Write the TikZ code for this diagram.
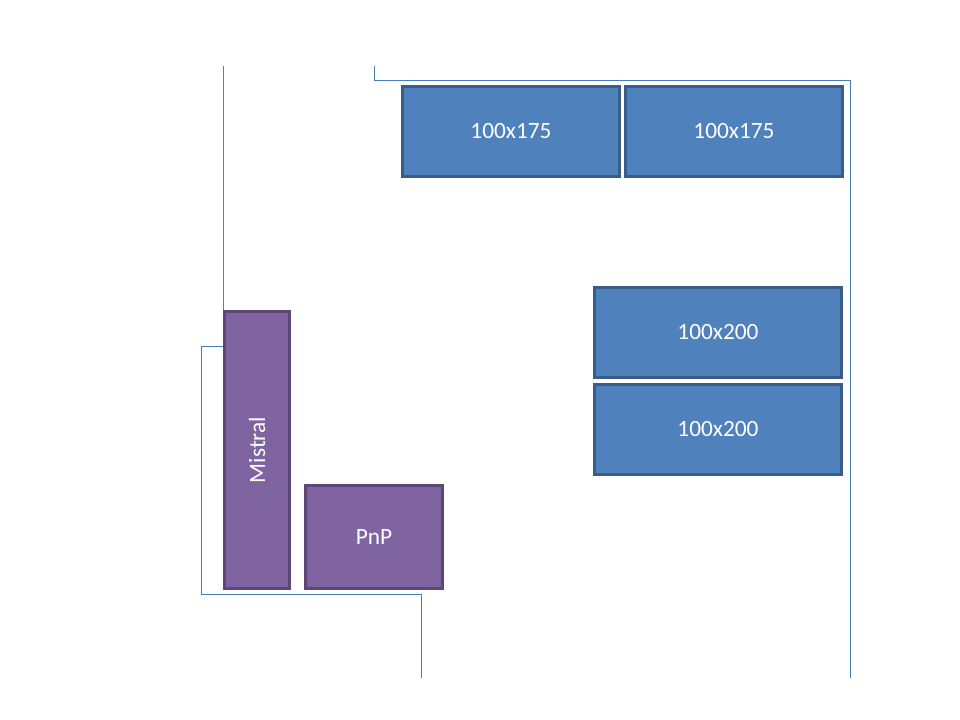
\documentclass[tikz,border=0pt]{standalone}
\usepackage{fontspec}
\setmainfont{Carlito}
\usepackage{graphicx}
\definecolor{bfill}{HTML}{4F81BD}
\definecolor{bdraw}{HTML}{385D8A}
\definecolor{pfill}{HTML}{8064A2}
\definecolor{pdraw}{HTML}{5C4776}
\definecolor{lineblue}{HTML}{4A7EBB}
\begin{document}
\begin{tikzpicture}[x=0.75pt,y=-0.75pt,
  bluebox/.style={draw=bdraw,fill=bfill,line width=2pt,text=white,font=\fontsize{17.5}{19}\selectfont,inner sep=0pt},
  purplebox/.style={draw=pdraw,fill=pfill,line width=2pt,text=white,font=\fontsize{17.5}{19}\selectfont,inner sep=0pt},
  conn/.style={draw=lineblue,line width=0.6pt}]
\useasboundingbox (0,0) rectangle (960,720);
\node[bluebox,minimum width=163pt,minimum height=67.7pt] (a1) at (511,131.5) {100x175};
\node[bluebox,minimum width=163pt,minimum height=67.7pt] (a2) at (734,131.5) {100x175};
\node[bluebox,minimum width=185.5pt,minimum height=67.7pt] (b1) at (718,332.5) {100x200};
\node[bluebox,minimum width=185.5pt,minimum height=67.7pt] (b2) at (718,429.5) {100x200};
\node[purplebox,minimum width=49pt,minimum height=208pt] (m) at (257,450) {\rotatebox{90}{Mistral}};
\node[purplebox,minimum width=103pt,minimum height=77.5pt] (p) at (374,537) {PnP};
\coordinate (t1) at (223,66);
\coordinate (m1) at (223,346);
\coordinate (l1) at (421,678);
\coordinate (r0) at (374,66);
\coordinate (r1) at (850,678);
\draw[draw=lineblue!60!gray,line width=0.6pt] (t1) -- (t1|-m.north west);
\draw[conn] (m1) -- (201,346) -- (201,594) -- (421,594) -- (l1);
\draw[conn] (r0) -- (374,80) -- (850,80) -- (r1);
\end{tikzpicture}
\end{document}
